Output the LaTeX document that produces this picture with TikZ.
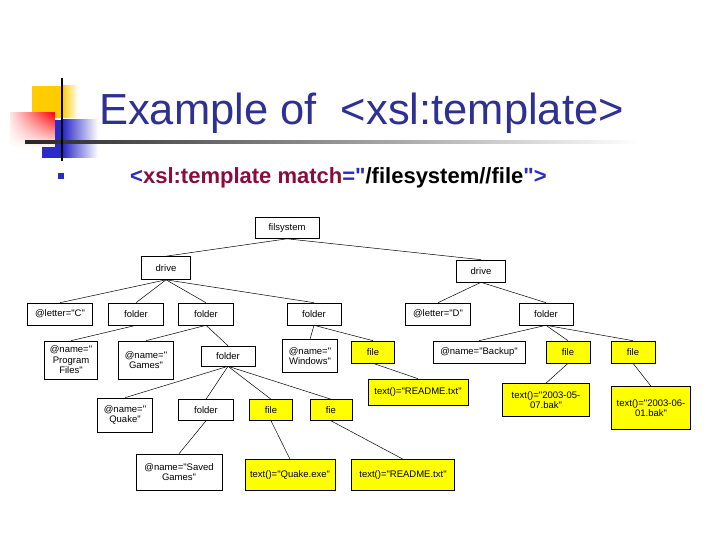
\documentclass[tikz,border=0pt]{standalone}
\usepackage{fontspec}
\setmainfont{Liberation Sans}[Ligatures=TeXOff]
\usetikzlibrary{positioning,fadings}
\definecolor{navy}{HTML}{2E3192}
\definecolor{maroon}{HTML}{8A0B3C}
\definecolor{bulletblue}{HTML}{2B2BC0}
\definecolor{decoyellow}{HTML}{FFCC00}
\definecolor{decoblue}{HTML}{2B2BC8}
\definecolor{hilite}{HTML}{FFFF00}
\tikzset{treebox/.style={draw=black,fill=white,align=center,line width=0.6pt,
 font=\fontsize{9.5}{10.5}\selectfont,inner sep=1pt},
 filebox/.style={treebox,fill=hilite},
 boxsize/.style 2 args={minimum width=#1pt,minimum height=#2pt},
 treeline/.style={draw=black,line width=0.5pt}}
\begin{document}
\begin{tikzpicture}[x=1pt,y=-1pt]
\useasboundingbox (0,0) rectangle (720,540);
% slide heading decoration
\fill[decoyellow] (32,86) rectangle (62,118);
\shade[left color=decoyellow,right color=white] (62,86) rectangle (78,118);
\fill[decoblue] (42,120) rectangle (63,158);
\shade[left color=decoblue,right color=white] (63,120) rectangle (98,158);
\fill[white] (10,113) rectangle (55,147);
\shade[left color=red!10,right color=red,path fading=south] (10,113) rectangle (55,147);
\shade[left color=black!85,right color=white] (25,140.5) rectangle (640,143.5);
\fill[black] (60.8,78) rectangle (63.4,161);
\node[anchor=base west,inner sep=0pt,text=navy,font=\fontsize{43.5}{44}\selectfont] (title) at (99,125) {Example of\ \ <xsl:template>};
\fill[bulletblue] (58,173) rectangle (63.5,179);
\node[anchor=base west,inner sep=0pt,font=\bfseries\fontsize{22}{22}\selectfont] (rule) at (130,184)
 {\textcolor{bulletblue}{<}\textcolor{maroon}{xsl:template match}\textcolor{bulletblue}{="}/filesystem//file\textcolor{bulletblue}{">}};
% tree
\node[treebox,boxsize={64}{21}] (fs) at (287,228) {filsystem};
\node[treebox,boxsize={49}{23}] (driveC) at (166,268) {drive};
\node[treebox,boxsize={49}{22}] (driveD) at (481,271) {drive};
\node[treebox,boxsize={65}{22}] (letterC) at (60,314) {@letter="C"};
\node[treebox,boxsize={55}{22}] (progdir) at (136,314) {folder};
\node[treebox,boxsize={55}{22}] (gamesdir) at (206,314) {folder};
\node[treebox,boxsize={54}{22}] (windir) at (314,314) {folder};
\node[treebox,boxsize={65}{22}] (letterD) at (438,314) {@letter="D"};
\node[treebox,boxsize={54}{22}] (backupdir) at (546,314) {folder};
\node[treebox,boxsize={53}{38}] (progname) at (71,360) {@name="\\Program\\Files"};
\node[treebox,boxsize={55}{38}] (gamesname) at (146,360) {@name="\\Games"};
\node[treebox,boxsize={54}{20}] (quakedir) at (228,356) {folder};
\node[treebox,boxsize={55}{33}] (winname) at (310,356) {@name="\\Windows"};
\node[filebox,boxsize={43}{22}] (winfile) at (373,352) {file};
\node[treebox,boxsize={92}{22}] (backupname) at (479,352) {@name="Backup"};
\node[filebox,boxsize={44}{22}] (bakfileA) at (568,352) {file};
\node[filebox,boxsize={44}{22}] (bakfileB) at (633,352) {file};
\node[filebox,boxsize={100}{26}] (wintext) at (418,392) {text()="README.txt"};
\node[filebox,boxsize={87}{33}] (baktextA) at (546,400) {text()="2003-05-\\07.bak"};
\node[filebox,boxsize={79}{43}] (baktextB) at (651,408) {text()="2003-06-\\01.bak"};
\node[treebox,boxsize={55}{34}] (quakename) at (125,415) {@name="\\Quake"};
\node[treebox,boxsize={55}{21}] (saveddir) at (206,410) {folder};
\node[filebox,boxsize={43}{21}] (exefile) at (271,410) {file};
\node[filebox,boxsize={42}{21}] (readfile) at (331,410) {fie};
\node[treebox,boxsize={86}{36}] (savedname) at (179,472) {@name="Saved\\Games"};
\node[filebox,boxsize={90}{31}] (exetext) at (290,475) {text()="Quake.exe"};
\node[filebox,boxsize={103}{31}] (readtext) at (403,475) {text()="README.txt"};
\foreach \p/\c in {fs/driveC,fs/driveD,driveC/letterC,driveC/progdir,driveC/gamesdir,driveC/windir,
 driveD/letterD,driveD/backupdir,progdir/progname,gamesdir/gamesname,gamesdir/quakedir,
 windir/winname,windir/winfile,backupdir/backupname,backupdir/bakfileA,backupdir/bakfileB,
 winfile/wintext,bakfileA/baktextA,bakfileB/baktextB,quakedir/quakename,quakedir/saveddir,
 quakedir/exefile,quakedir/readfile,saveddir/savedname,exefile/exetext,readfile/readtext}
 \draw[treeline] (\p.south)--(\c.north);
\end{tikzpicture}
\end{document}
